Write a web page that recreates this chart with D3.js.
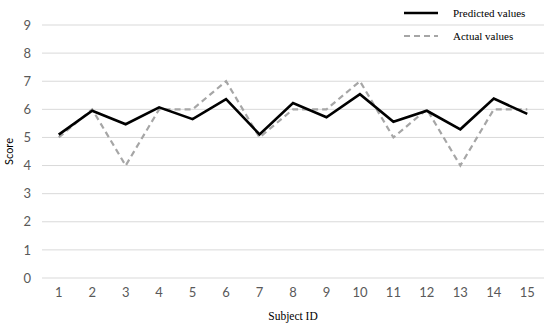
<!DOCTYPE html>
<html>
<head>
<meta charset="utf-8">
<script src="https://cdn.jsdelivr.net/npm/d3@7"></script>
<style>
  body { margin: 0; background: #fff; }
  .grid line { stroke: #d9d9d9; stroke-width: 1; }
  .tick text { fill: #595959; font-family: Lato, "Open Sans", sans-serif; font-size: 13px; }
</style>
</head>
<body>
<script>
//chart data
var subjects = [1, 2, 3, 4, 5, 6, 7, 8, 9, 10, 11, 12, 13, 14, 15];
var predicted = [5.1, 5.95, 5.47, 6.07, 5.65, 6.36, 5.11, 6.22, 5.72, 6.54, 5.56, 5.95, 5.29, 6.38, 5.84];
var actual = [5, 6, 4, 6, 6, 7, 5, 6, 6, 7, 5, 6, 4, 6, 6];
var yTicks = [0, 1, 2, 3, 4, 5, 6, 7, 8, 9];

var width = 550,
    height = 327;

var svg = d3.select("body")
    .append("svg")
    .attr("width", width)
    .attr("height", height);

//plot area (names avoid window.top clash)
var plotLeft = 42, plotRight = 544, plotTop = 25, plotBottom = 278;

var x = d3.scaleBand()
    .domain(subjects)
    .range([plotLeft, plotRight]);

var y = d3.scaleLinear()
    .domain([0, 9])
    .range([plotBottom, plotTop]);

//horizontal gridlines
svg.append("g")
    .attr("class", "grid")
    .selectAll("line")
    .data(yTicks)
    .enter()
    .append("line")
    .attr("x1", plotLeft)
    .attr("x2", plotRight)
    .attr("y1", function(d){ return y(d); })
    .attr("y2", function(d){ return y(d); });

//y axis labels
var yAxis = svg.append("g")
    .attr("transform", "translate(" + (plotLeft - 11) + ",0)")
    .call(d3.axisLeft(y).tickValues(yTicks).tickSize(0).tickPadding(0));
yAxis.select(".domain").remove();

//x axis labels
var xAxis = svg.append("g")
    .attr("transform", "translate(0," + (plotBottom + 10) + ")")
    .call(d3.axisBottom(x).tickSize(0).tickPadding(0));
xAxis.select(".domain").remove();
xAxis.selectAll("text").attr("dy", "0.71em");

//axis titles
svg.append("text")
    .attr("x", (plotLeft + plotRight) / 2)
    .attr("y", 320)
    .attr("text-anchor", "middle")
    .style("font-family", "'Liberation Serif', 'Times New Roman', serif")
    .style("font-size", "11.5px")
    .text("Subject ID");

svg.append("text")
    .attr("transform", "translate(13," + ((plotTop + plotBottom) / 2) + ") rotate(-90)")
    .attr("text-anchor", "middle")
    .style("font-family", "Lato, 'Open Sans', sans-serif")
    .style("font-size", "11px")
    .text("Score");

var line = d3.line()
    .x(function(d, i){ return x(subjects[i]) + x.bandwidth() / 2; })
    .y(function(d){ return y(d); });

//actual values (dashed gray)
svg.append("path")
    .datum(actual)
    .attr("fill", "none")
    .attr("stroke", "#a6a6a6")
    .attr("stroke-width", 2.2)
    .attr("stroke-dasharray", "6,4")
    .attr("d", line);

//predicted values (solid black)
svg.append("path")
    .datum(predicted)
    .attr("fill", "none")
    .attr("stroke", "#000")
    .attr("stroke-width", 2.6)
    .attr("d", line);

//legend
var legendItems = [
    { name: "Predicted values", color: "#000", dash: null, w: 2.6 },
    { name: "Actual values", color: "#a6a6a6", dash: "6,4", w: 2.2 }
];
var legend = svg.selectAll(".legend")
    .data(legendItems)
    .enter()
    .append("g")
    .attr("class", "legend")
    .attr("transform", function(d, i){ return "translate(404," + (13 + i * 23) + ")"; });

legend.append("line")
    .attr("x1", 0)
    .attr("x2", 34)
    .attr("stroke", function(d){ return d.color; })
    .attr("stroke-width", function(d){ return d.w; })
    .attr("stroke-dasharray", function(d){ return d.dash; });

legend.append("text")
    .attr("x", 49)
    .attr("dy", "0.35em")
    .style("font-family", "'Liberation Serif', 'Times New Roman', serif")
    .style("font-size", "11px")
    .text(function(d){ return d.name; });
</script>
</body>
</html>
